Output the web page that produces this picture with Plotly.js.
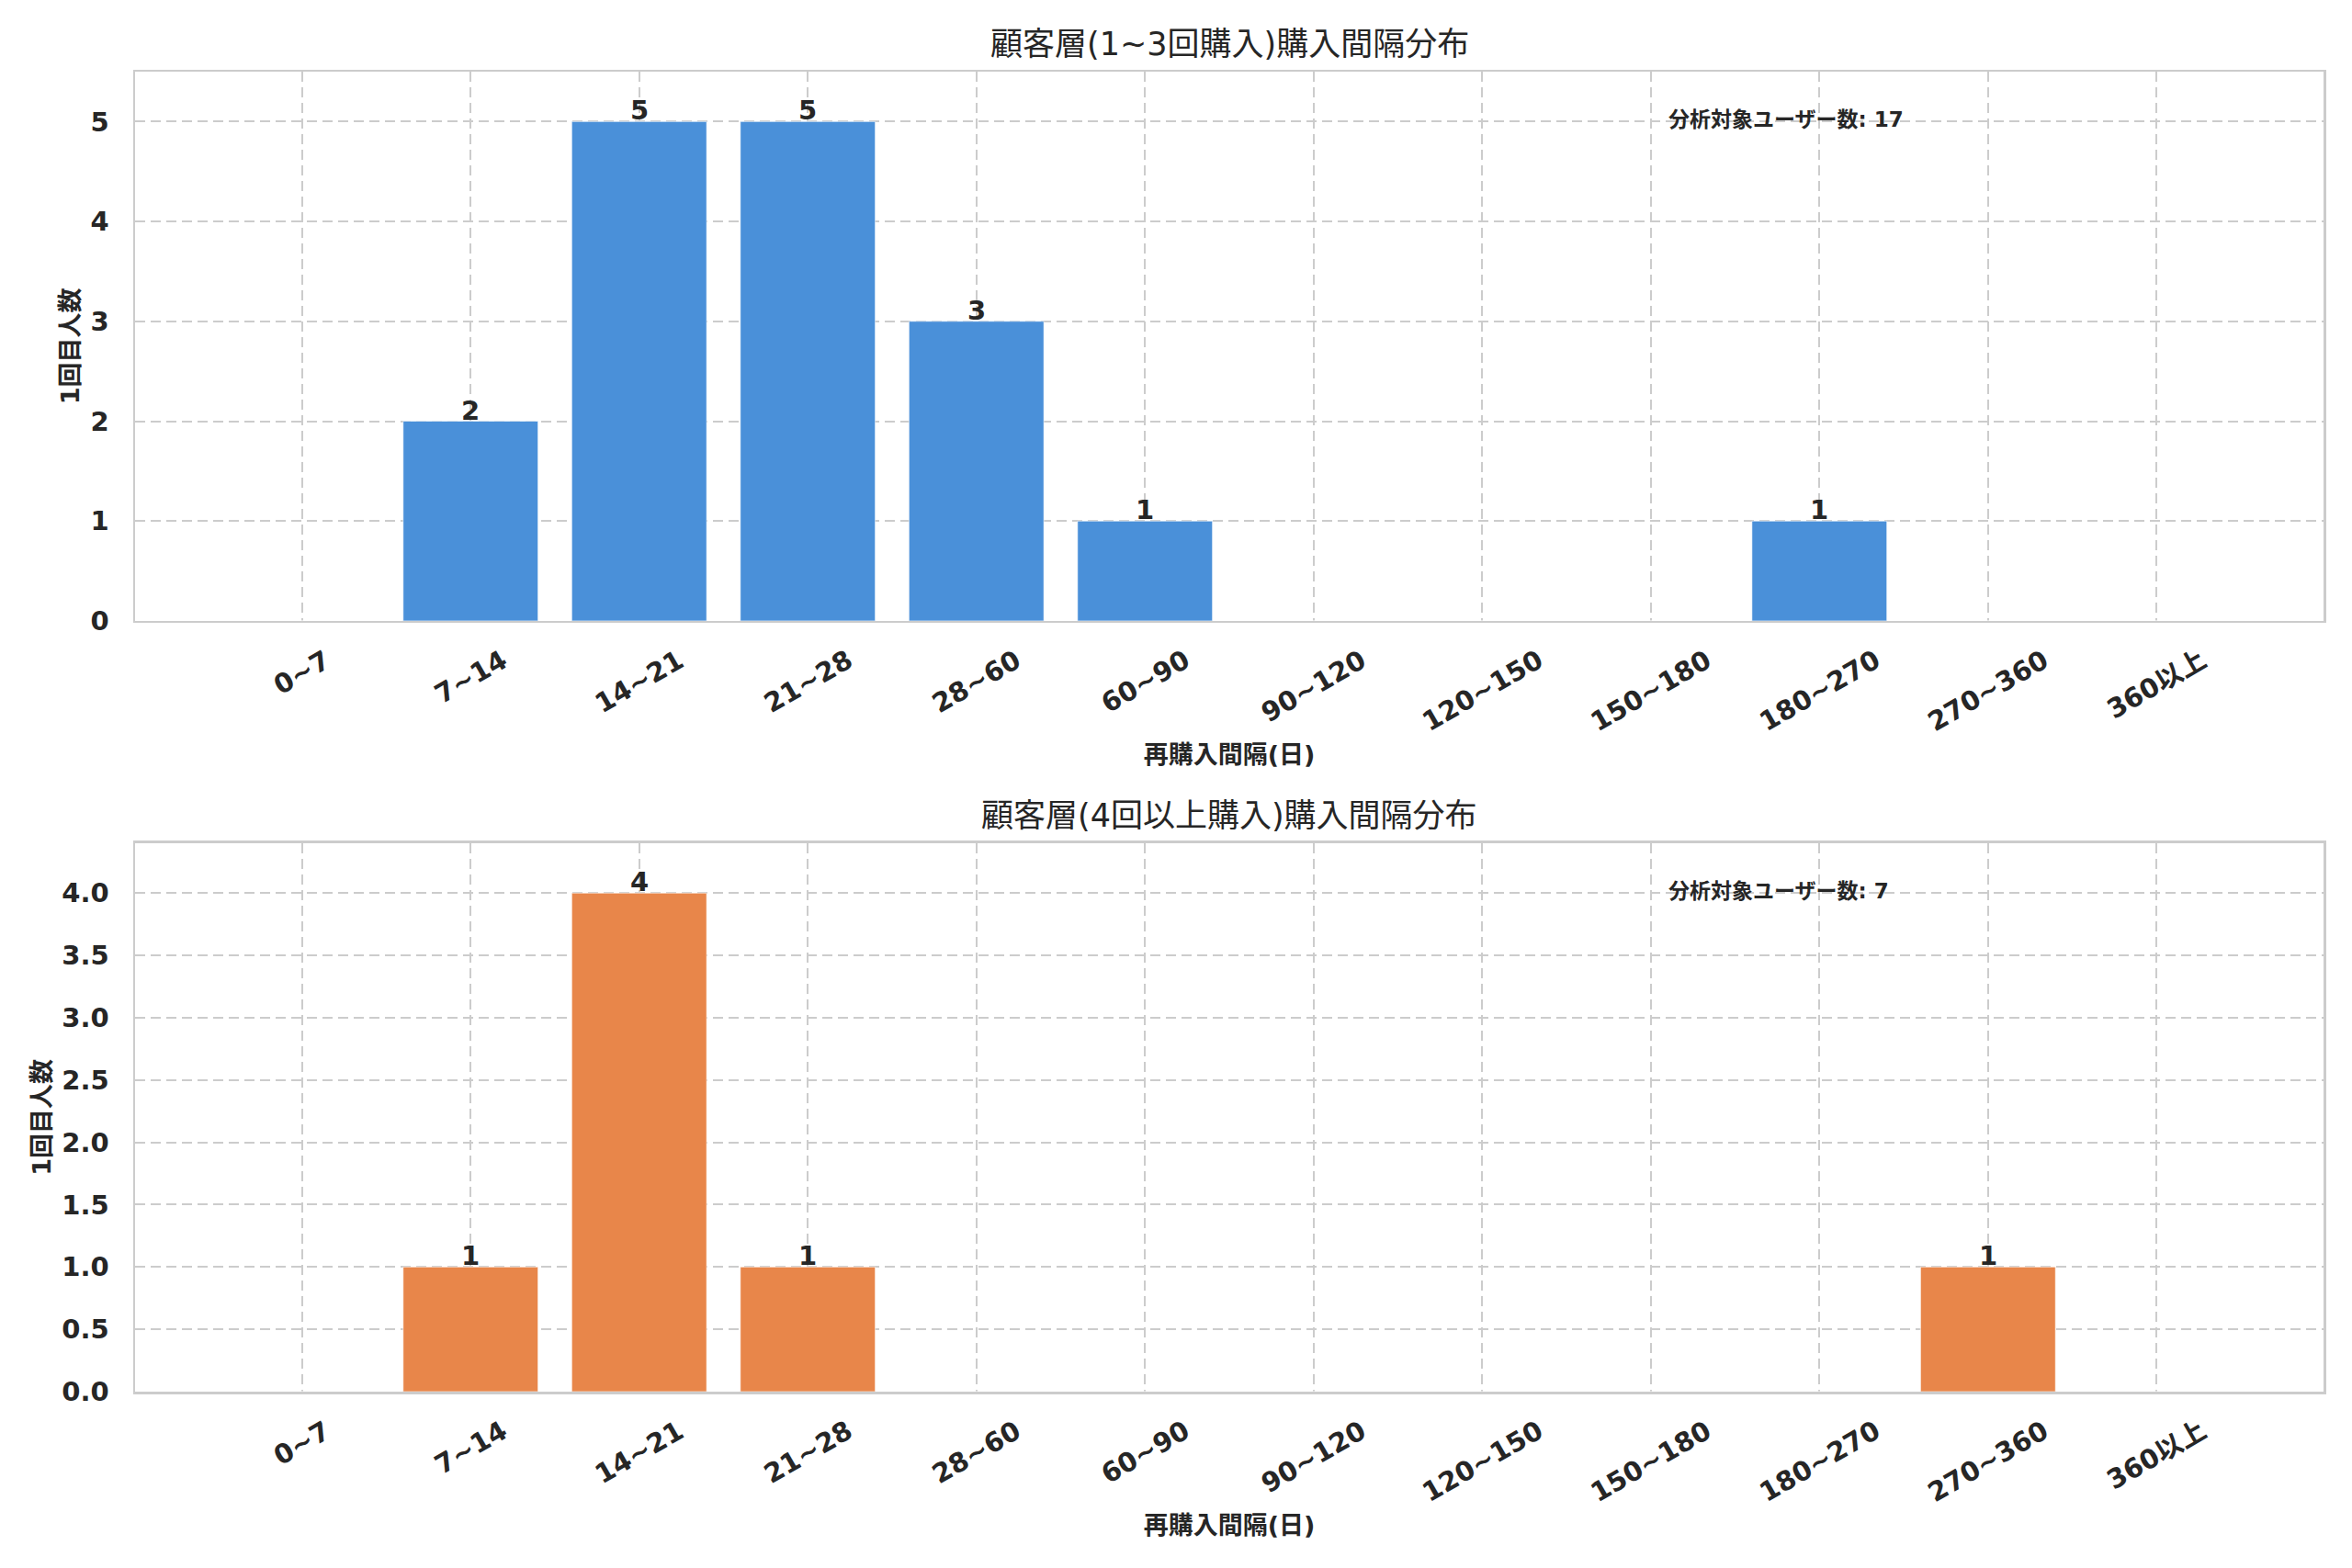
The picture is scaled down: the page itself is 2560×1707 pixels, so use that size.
<!DOCTYPE html>
<html>
<head>
<meta charset="utf-8">
<script src="https://cdn.plot.ly/plotly-3.0.1.min.js"></script>
<style>
  html, body { margin: 0; padding: 0; background: #ffffff; }
  #chart { width: 2560px; height: 1707px; }
</style>
</head>
<body>
<div id="chart"></div>
<script>
// interval buckets (days)
const categories = ['0~7', '7~14', '14~21', '21~28', '28~60', '60~90', '90~120', '120~150', '150~180', '180~270', '270~360', '360以上'];
// users with 1-3 purchases
const lowCounts = [0, 2, 5, 5, 3, 1, 0, 0, 0, 1, 0, 0];
// users with 4+ purchases
const highCounts = [0, 1, 4, 1, 0, 0, 0, 0, 0, 0, 1, 0];

const titles = ['顧客層(1~3回購入)購入間隔分布', '顧客層(4回以上購入)購入間隔分布'];
const xTitle = '再購入間隔(日)';
const yTitle = '1回目人数';
const totalLabel = '分析対象ユーザー数';
const colors = ['#4a90d9', '#e8864a'];

const FONT = 'DejaVu Sans, "Noto Sans CJK JP", sans-serif';
const TXT = '#262626';
const sum = arr => arr.reduce((a, b) => a + b, 0);

const panels = [
  { y: lowCounts, xa: 'x', ya: 'y', color: colors[0], title: titles[0], top: 1 },
  { y: highCounts, xa: 'x2', ya: 'y2', color: colors[1], title: titles[1], top: 0.4155 }
];

const traces = panels.map(p => ({
  type: 'bar', x: categories, y: p.y, xaxis: p.xa, yaxis: p.ya, width: 0.8,
  marker: { color: p.color, line: { color: 'rgba(255,255,255,0.6)', width: 1 } },
  hoverinfo: 'x+y', showlegend: false
}));

const annotations = [];
panels.forEach(p => {
  // subplot title
  annotations.push({
    text: p.title, xref: 'paper', yref: 'paper', x: 0.5, y: p.top, yshift: 30,
    xanchor: 'center', yanchor: 'middle', showarrow: false,
    font: { family: FONT, size: 35, color: TXT }
  });
  // value labels on non-zero bars
  p.y.forEach((v, i) => {
    if (!v) return;
    annotations.push({
      text: String(v), xref: p.xa, yref: p.ya, x: categories[i], y: v, yshift: -7,
      xanchor: 'center', yanchor: 'bottom', showarrow: false,
      font: { family: FONT, size: 29, color: TXT, weight: 'bold' }
    });
  });
  // rotated tick labels, centred under each category
  categories.forEach(c => {
    annotations.push({
      text: c, xref: p.xa, yref: p.ya + ' domain', x: c, y: 0, yshift: -22,
      xanchor: 'center', yanchor: 'top', textangle: -30, showarrow: false,
      font: { family: FONT, size: 29, color: TXT, weight: 'bold' }
    });
  });
  // total box
  annotations.push({
    text: totalLabel + ': ' + sum(p.y), xref: p.xa + ' domain', yref: p.ya + ' domain',
    x: 0.7, y: 0.913, xanchor: 'left', yanchor: 'middle', showarrow: false,
    font: { family: FONT, size: 23, color: TXT, weight: 'bold' }
  });
});

const gridAxis = {
  showgrid: true, gridcolor: '#cccccc', gridwidth: 2, griddash: '11px,6px',
  showline: true, linecolor: '#cccccc', linewidth: 2.5, mirror: true,
  zeroline: false, ticks: ''
};

const xAxis = (anchor) => ({
  ...gridAxis, type: 'category', anchor: anchor, domain: [0, 1],
  range: [-0.99, 11.99], showticklabels: false,
  title: { text: xTitle, standoff: 135, font: { family: FONT, size: 27, color: TXT, weight: 'bold' } }
});

const yAxis = (anchor, domain, range, dtick, fmt) => ({
  ...gridAxis, anchor: anchor, domain: domain, range: range, dtick: dtick, tickformat: fmt,
  ticklabelstandoff: 20,
  tickfont: { family: FONT, size: 29, color: TXT, weight: 'bold' },
  title: { text: yTitle, standoff: 4, font: { family: FONT, size: 27, color: TXT, weight: 'bold' } }
});

const layout = {
  width: 2560, height: 1707,
  paper_bgcolor: '#ffffff', plot_bgcolor: '#ffffff',
  font: { family: FONT, color: TXT },
  margin: { l: 147, r: 31, t: 78, b: 192 },
  showlegend: false,
  xaxis: xAxis('y'),
  yaxis: yAxis('x', [0.5839, 1], [0, 5.5], 1, 'd'),
  xaxis2: xAxis('y2'),
  yaxis2: yAxis('x2', [0, 0.4155], [0, 4.4], 0.5, '.1f'),
  annotations: annotations
};

Plotly.newPlot('chart', traces, layout, { staticPlot: true });
</script>
</body>
</html>
